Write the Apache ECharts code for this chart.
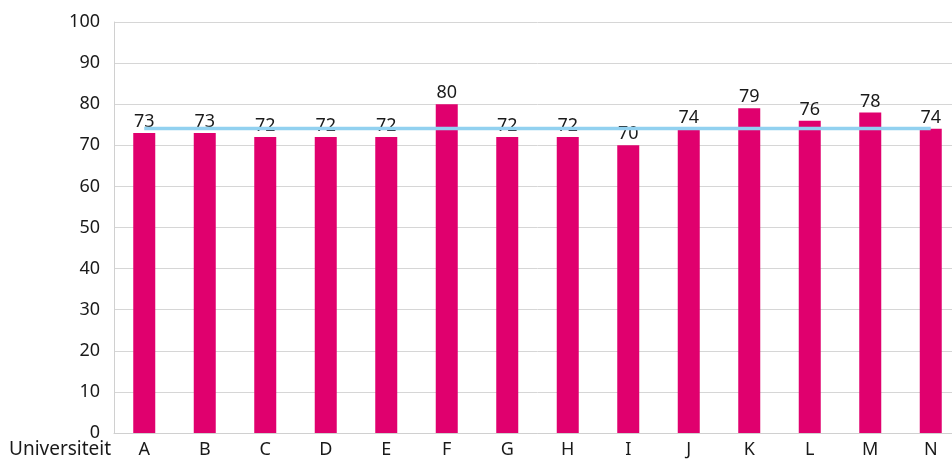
<!DOCTYPE html>
<html>
<head>
<meta charset="utf-8">
<script src="https://cdn.jsdelivr.net/npm/echarts@6/dist/echarts.min.js"></script>
<style>
  html, body { margin: 0; padding: 0; background: #fff; overflow: hidden; }
  #chart { width: 961px; height: 461px; }
</style>
</head>
<body>
<div id="chart"></div>
<script>
// universiteiten en scores
var universiteiten = ['A', 'B', 'C', 'D', 'E', 'F', 'G', 'H', 'I', 'J', 'K', 'L', 'M', 'N'];
var scores = [73, 73, 72, 72, 72, 80, 72, 72, 70, 74, 79, 76, 78, 74];
var gemiddelde = [74.1, 74.1, 74.1, 74.1, 74.1, 74.1, 74.1, 74.1, 74.1, 74.1, 74.1, 74.1, 74.1, 74.1];
var yTicks = { min: 0, max: 100, interval: 10 };

// de grafiek loopt rechts iets buiten het beeld, net als het origineel
var chart = echarts.init(document.getElementById('chart'));
var font = 'Noto Sans';
var option = {
  animation: false,
  textStyle: { fontFamily: font },
  grid: { left: 114, right: 0, top: 22, bottom: 28 },
  graphic: [{
    type: 'text', left: 9, top: 440,
    style: { text: 'Universiteit', fontFamily: font, fontSize: 19, fill: '#1a1a1a' }
  }],
  xAxis: {
    type: 'category',
    data: universiteiten,
    axisLine: { lineStyle: { color: '#d0d0d0' } },
    axisTick: { show: false },
    axisLabel: { color: '#1a1a1a', fontSize: 18, margin: 8 }
  },
  yAxis: {
    type: 'value',
    min: yTicks.min, max: yTicks.max, interval: yTicks.interval,
    axisLine: { show: true, lineStyle: { color: '#d0d0d0' } },
    axisTick: { show: false },
    splitLine: { lineStyle: { color: '#d6d6d6' } },
    axisLabel: { color: '#1a1a1a', fontSize: 18, margin: 14 }
  },
  series: [
    {
      type: 'bar',
      data: scores,
      barWidth: 22,
      itemStyle: { color: '#e0006e' },
      label: { show: true, position: 'top', distance: 2, color: '#1a1a1a', fontSize: 18 }
    },
    {
      type: 'line',
      data: gemiddelde,
      symbol: 'none',
      z: 5,
      lineStyle: { color: '#92d1f0', width: 3.5 }
    }
  ]
};
chart.setOption(option);
</script>
</body>
</html>
